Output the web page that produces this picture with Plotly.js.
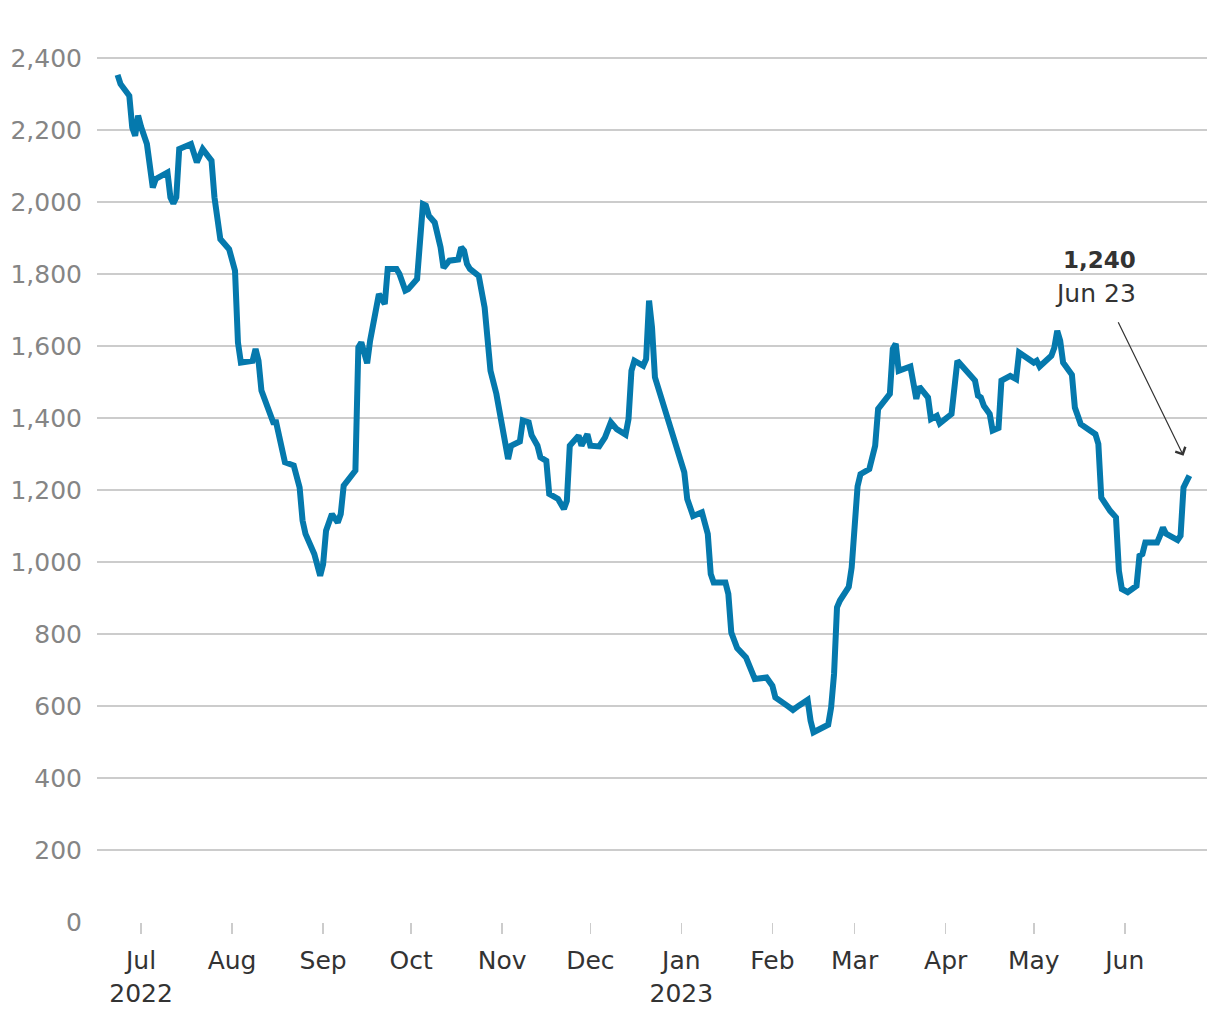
<!DOCTYPE html>
<html>
<head>
<meta charset="utf-8">
<script src="https://cdn.plot.ly/plotly-3.0.1.min.js"></script>
<style>
  html, body { margin: 0; padding: 0; background: #ffffff; }
  #chart { width: 1220px; height: 1020px; }
</style>
</head>
<body>
<div id="chart"></div>
<script>
// ---- Data ----
const dates = [
  '2022-06-23','2022-06-24','2022-06-27','2022-06-28','2022-06-29','2022-06-30','2022-07-01',
  '2022-07-03','2022-07-05','2022-07-06','2022-07-10','2022-07-11','2022-07-12','2022-07-13','2022-07-14',
  '2022-07-18','2022-07-20','2022-07-22','2022-07-25','2022-07-26','2022-07-28','2022-07-31',
  '2022-08-02','2022-08-03','2022-08-04','2022-08-08','2022-08-09','2022-08-10','2022-08-11',
  '2022-08-14','2022-08-15','2022-08-16','2022-08-18','2022-08-19','2022-08-22','2022-08-24',
  '2022-08-25','2022-08-26','2022-08-29','2022-08-30','2022-08-31','2022-09-01','2022-09-02',
  '2022-09-04','2022-09-06','2022-09-07','2022-09-08','2022-09-12','2022-09-13','2022-09-14',
  '2022-09-16','2022-09-17','2022-09-19','2022-09-20','2022-09-22','2022-09-23','2022-09-26',
  '2022-09-27','2022-09-29','2022-09-30','2022-10-03','2022-10-04','2022-10-05','2022-10-06',
  '2022-10-07','2022-10-09','2022-10-11','2022-10-12','2022-10-14','2022-10-17','2022-10-18',
  '2022-10-19','2022-10-20','2022-10-21','2022-10-24','2022-10-26','2022-10-28','2022-10-30',
  '2022-11-01','2022-11-03','2022-11-04','2022-11-07','2022-11-08','2022-11-10','2022-11-11',
  '2022-11-13','2022-11-14','2022-11-16','2022-11-17','2022-11-20','2022-11-22','2022-11-23',
  '2022-11-24','2022-11-27','2022-11-28','2022-11-30','2022-12-01','2022-12-04','2022-12-06',
  '2022-12-08','2022-12-10','2022-12-13','2022-12-14','2022-12-15','2022-12-16','2022-12-19',
  '2022-12-20','2022-12-21','2022-12-22','2022-12-23','2023-01-02','2023-01-03','2023-01-05',
  '2023-01-08','2023-01-10','2023-01-11','2023-01-12','2023-01-16','2023-01-17','2023-01-18',
  '2023-01-20','2023-01-23','2023-01-26','2023-01-30','2023-02-01','2023-02-02','2023-02-06',
  '2023-02-08','2023-02-10','2023-02-13','2023-02-14','2023-02-15','2023-02-20','2023-02-21',
  '2023-02-22','2023-02-23','2023-02-24','2023-02-27','2023-02-28','2023-03-01','2023-03-02',
  '2023-03-03','2023-03-06','2023-03-08','2023-03-09','2023-03-13','2023-03-14','2023-03-15',
  '2023-03-16','2023-03-20','2023-03-22','2023-03-23','2023-03-26','2023-03-27','2023-03-29',
  '2023-03-30','2023-04-03','2023-04-05','2023-04-11','2023-04-12','2023-04-13','2023-04-14',
  '2023-04-16','2023-04-17','2023-04-19','2023-04-20','2023-04-23','2023-04-25','2023-04-26',
  '2023-05-01','2023-05-02','2023-05-03','2023-05-07','2023-05-08','2023-05-09','2023-05-10',
  '2023-05-11','2023-05-14','2023-05-15','2023-05-17','2023-05-22','2023-05-23','2023-05-24',
  '2023-05-27','2023-05-29','2023-05-30','2023-05-31','2023-06-02','2023-06-05','2023-06-06',
  '2023-06-07','2023-06-08','2023-06-12','2023-06-13','2023-06-14','2023-06-15','2023-06-19',
  '2023-06-20','2023-06-21','2023-06-23'
];
const values = [
  2353, 2328, 2295, 2207, 2184, 2240, 2209,
  2161, 2040, 2064, 2082, 2013, 1996, 2013, 2147,
  2161, 2110, 2147, 2115, 2013, 1897, 1869,
  1809, 1610, 1554, 1559, 1592, 1559, 1476,
  1411, 1388, 1388, 1318, 1277, 1268, 1207,
  1115, 1078, 1022, 994, 962, 994, 1087,
  1133, 1110, 1133, 1212, 1254, 1596, 1610,
  1552, 1615, 1705, 1744, 1717, 1814, 1814,
  1800, 1754, 1758, 1786, 1874, 1994, 1990,
  1962, 1943, 1874, 1817, 1837, 1840, 1874,
  1865, 1828, 1814, 1795, 1707, 1531, 1467,
  1374, 1286, 1323, 1335, 1393, 1388, 1352,
  1323, 1291, 1281, 1189, 1175, 1147, 1170,
  1323, 1351, 1323, 1355, 1323, 1321, 1346,
  1388, 1369, 1354, 1397, 1531, 1559, 1545,
  1564, 1726, 1652, 1513, 1249, 1175, 1128,
  1138, 1078, 967, 943, 943, 911, 804,
  761, 735, 675, 679, 656, 624, 601,
  589, 601, 617, 559, 527, 548, 596,
  689, 874, 893, 931, 985, 1100, 1210,
  1244, 1258, 1323, 1425, 1467, 1592, 1606,
  1531, 1543, 1453, 1487, 1457, 1397, 1406,
  1385, 1411, 1559, 1504, 1462, 1457, 1434,
  1411, 1365, 1372, 1504, 1517, 1508, 1582,
  1554, 1559, 1543, 1573, 1595, 1642, 1615,
  1554, 1520, 1429, 1383, 1355, 1328, 1179,
  1142, 1124, 976, 925, 916, 934, 1017,
  1022, 1054, 1054, 1073, 1096, 1079, 1061,
  1073, 1207, 1240
];
const xTickVals = ['2022-07-01','2022-08-01','2022-09-01','2022-10-01','2022-11-01','2022-12-01',
                   '2023-01-01','2023-02-01','2023-03-01','2023-04-01','2023-05-01','2023-06-01'];
const xTickText = ['Jul<br>2022','Aug','Sep','Oct','Nov','Dec','Jan<br>2023','Feb','Mar','Apr','May','Jun'];
const yTickVals = [0, 200, 400, 600, 800, 1000, 1200, 1400, 1600, 1800, 2000, 2200, 2400];
const lastLabel = '1,240';
const lastDateLabel = 'Jun 23';

const FONT = '"DejaVu Sans", Roboto, Arial, sans-serif';

const trace = {
  x: dates,
  y: values,
  type: 'scatter',
  mode: 'lines',
  line: { color: '#0579AD', width: 6, shape: 'linear' },
  hoverinfo: 'x+y'
};

const layout = {
  width: 1220,
  height: 1020,
  margin: { l: 97, r: 13, t: 40, b: 98 },
  paper_bgcolor: '#ffffff',
  plot_bgcolor: '#ffffff',
  showlegend: false,
  font: { family: FONT, size: 25, color: '#333333' },
  xaxis: {
    type: 'date',
    range: ['2022-06-16', '2023-06-29'],
    tickvals: xTickVals,
    ticktext: xTickText,
    ticks: 'outside',
    ticklen: 11,
    tickwidth: 1.5,
    tickcolor: '#cccccc',
    showgrid: false,
    showline: false,
    zeroline: false,
    tickfont: { family: FONT, size: 25, color: '#333333' },
    ticklabelstandoff: 5,
    fixedrange: true
  },
  yaxis: {
    range: [0, 2450],
    tickvals: yTickVals,
    tickformat: ',d',
    showgrid: true,
    gridcolor: '#cccccc',
    gridwidth: 1.5,
    zeroline: false,
    showline: false,
    ticks: '',
    tickfont: { family: FONT, size: 25, color: '#858585' },
    ticklabelstandoff: 14,
    fixedrange: true
  },
  annotations: [
    {
      xref: 'paper', yref: 'paper',
      x: 0.938, y: 0.751,
      xanchor: 'right', yanchor: 'middle',
      text: '<b>' + lastLabel + '</b>',
      showarrow: false,
      font: { family: FONT, size: 23, color: '#333333' }
    },
    {
      xref: 'paper', yref: 'paper',
      x: 0.938, y: 0.713,
      xanchor: 'right', yanchor: 'middle',
      text: lastDateLabel,
      showarrow: false,
      font: { family: FONT, size: 25, color: '#333333' }
    },
    {
      xref: 'x', yref: 'y',
      x: '2023-06-21', y: 1295,
      ax: -66, ay: -135,
      text: '',
      showarrow: true,
      arrowhead: 4,
      arrowsize: 1.8,
      arrowwidth: 1.2,
      arrowcolor: '#333333'
    }
  ]
};

Plotly.newPlot('chart', [trace], layout, { displayModeBar: false, staticPlot: true });
</script>
</body>
</html>
